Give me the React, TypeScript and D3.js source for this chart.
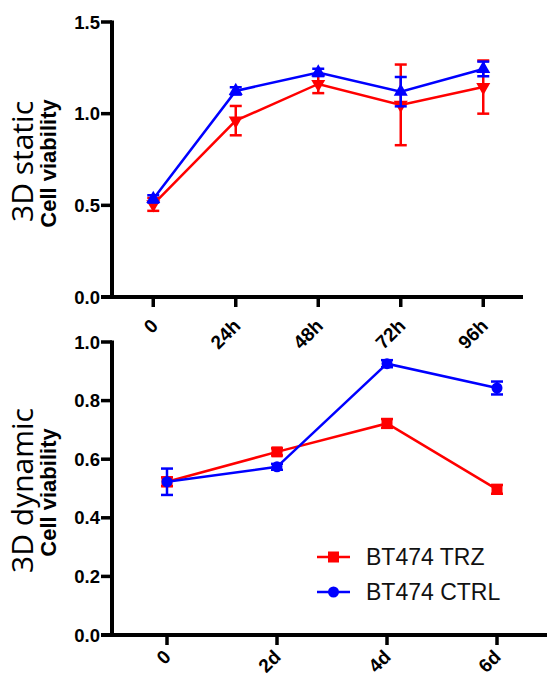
import React from "react";
import * as d3 from "d3";

// top panel: 3D static
const staticLabels = ["0", "24h", "48h", "72h", "96h"];
const staticCtrl = [0.535, 1.124, 1.225, 1.12, 1.244];
const staticCtrlErr = [0.02, 0.02, 0.02, 0.08, 0.04];
const staticTrz = [0.505, 0.962, 1.162, 1.048, 1.145];
const staticTrzErr = [0.035, 0.08, 0.05, 0.22, 0.145];
const staticTicks = [0, 0.5, 1.0, 1.5];

// bottom panel: 3D dynamic
const dynLabels = ["0", "2d", "4d", "6d"];
const dynTrz = [0.523, 0.625, 0.722, 0.497];
const dynTrzErr = [0.015, 0.012, 0.015, 0.015];
const dynCtrl = [0.523, 0.574, 0.926, 0.843];
const dynCtrlErr = [0.045, 0.01, 0.012, 0.022];
const dynTicks = [0, 0.2, 0.4, 0.6, 0.8, 1.0];

const legendNames = ["BT474 TRZ", "BT474 CTRL"];

const RED = "#ff0000";
const BLUE = "#0000ff";
const tickFont = "'Liberation Sans', Arial, sans-serif";

type Series = { vals: number[]; errs: number[]; color: string; marker: string };

function Marker({ kind, x, y, color }: { kind: string; x: number; y: number; color: string }) {
  if (kind === "square") return <rect x={x - 5.5} y={y - 5.5} width={11} height={11} fill={color} />;
  if (kind === "circle") return <circle cx={x} cy={y} r={5.5} fill={color} />;
  const sym = d3.symbol().type(d3.symbolTriangle).size(85)();
  return (
    <path d={sym || ""} fill={color} transform={`translate(${x},${y}) rotate(${kind === "down" ? 180 : 0})`} />
  );
}

function Panel(props: {
  top: number;
  bottom: number;
  axisEnd: number;
  labels: string[];
  ticks: number[];
  yMax: number;
  fmt: (v: number) => string;
  series: Series[];
  title: string;
  labelDx: number;
  labelDy: number;
}) {
  const { top, bottom, axisEnd, labels, ticks, yMax, fmt, series, title, labelDx, labelDy } = props;
  const left = 112;
  const step = labels.length === 5 ? 82.5 : 110;
  const x = d3
    .scalePoint<string>()
    .domain(labels)
    .range([left + step / 2, left + step / 2 + step * (labels.length - 1)]);
  const y = d3.scaleLinear().domain([0, yMax]).range([bottom, top]);
  const line = d3
    .line<number>()
    .x((_, i) => x(labels[i]) as number)
    .y((v) => y(v));
  const midY = (top + bottom) / 2 + 2;

  return (
    <g>
      {/* titles */}
      <text
        transform={`translate(32.5,${midY}) rotate(-90)`}
        textAnchor="middle"
        fontFamily="'Open Sans', sans-serif"
        fontSize={30}
      >
        {title}
      </text>
      <text
        transform={`translate(56,${midY + 2}) rotate(-90)`}
        textAnchor="middle"
        fontFamily={tickFont}
        fontWeight="bold"
        fontSize={22}
      >
        Cell viability
      </text>

      {/* y axis */}
      <line x1={left} x2={left} y1={top - 1.5} y2={bottom} stroke="#000" strokeWidth={4} />
      {ticks.map((t) => (
        <g key={t}>
          <line x1={left - 11} x2={left} y1={y(t)} y2={y(t)} stroke="#000" strokeWidth={3.5} />
          <text
            x={left - 12}
            y={y(t)}
            dy="0.36em"
            textAnchor="end"
            fontFamily={tickFont}
            fontWeight="bold"
            fontSize={18.5}
          >
            {fmt(t)}
          </text>
        </g>
      ))}

      {/* x axis */}
      <line x1={left - 11} x2={axisEnd} y1={bottom} y2={bottom} stroke="#000" strokeWidth={4} />
      {labels.map((l) => {
        const px = x(l) as number;
        return (
          <g key={l}>
            <line x1={px} x2={px} y1={bottom} y2={bottom + 10} stroke="#000" strokeWidth={3.5} />
            <text
              transform={`translate(${px + labelDx},${bottom + labelDy}) rotate(-45)`}
              textAnchor="end"
              fontFamily={tickFont}
              fontWeight="bold"
              fontSize={19}
            >
              {l}
            </text>
          </g>
        );
      })}

      {/* series */}
      {series.map((s, si) => (
        <g key={si}>
          <path d={line(s.vals) || ""} fill="none" stroke={s.color} strokeWidth={2.5} />
          {s.vals.map((v, i) => {
            const px = x(labels[i]) as number;
            const e = s.errs[i];
            return (
              <g key={i} stroke={s.color} strokeWidth={2.5}>
                <line x1={px} x2={px} y1={y(v + e)} y2={y(v - e)} />
                <line x1={px - 6} x2={px + 6} y1={y(v + e)} y2={y(v + e)} />
                <line x1={px - 6} x2={px + 6} y1={y(v - e)} y2={y(v - e)} />
              </g>
            );
          })}
          {s.vals.map((v, i) => (
            <Marker key={"m" + i} kind={s.marker} x={x(labels[i]) as number} y={y(v)} color={s.color} />
          ))}
        </g>
      ))}
    </g>
  );
}

export default function App() {
  const fmt1 = d3.format(".1f");
  return (
    <svg
      width={547}
      height={679}
      style={{ position: "absolute", left: 0, top: 0, background: "#fff" }}
    >
      <Panel
        top={22}
        bottom={297}
        axisEnd={523}
        labels={staticLabels}
        ticks={staticTicks}
        yMax={1.5}
        fmt={fmt1}
        title="3D static"
        labelDx={6}
        labelDy={30}
        series={[
          { vals: staticTrz, errs: staticTrzErr, color: RED, marker: "down" },
          { vals: staticCtrl, errs: staticCtrlErr, color: BLUE, marker: "up" },
        ]}
      />
      <Panel
        top={342}
        bottom={635}
        axisEnd={547}
        labels={dynLabels}
        ticks={dynTicks}
        yMax={1.0}
        fmt={fmt1}
        title="3D dynamic"
        labelDx={5}
        labelDy={23}
        series={[
          { vals: dynTrz, errs: dynTrzErr, color: RED, marker: "square" },
          { vals: dynCtrl, errs: dynCtrlErr, color: BLUE, marker: "circle" },
        ]}
      />
      {/* legend */}
      {legendNames.map((name, i) => {
        const ly = 557 + i * 35;
        const color = i === 0 ? RED : BLUE;
        return (
          <g key={name}>
            <line x1={317} x2={350} y1={ly} y2={ly} stroke={color} strokeWidth={2.5} />
            <Marker kind={i === 0 ? "square" : "circle"} x={333.5} y={ly} color={color} />
            <text
              x={366}
              y={ly}
              dy="0.36em"
              fontFamily={tickFont}
              fontSize={23}
              fill="#111"
            >
              {name}
            </text>
          </g>
        );
      })}
    </svg>
  );
}
